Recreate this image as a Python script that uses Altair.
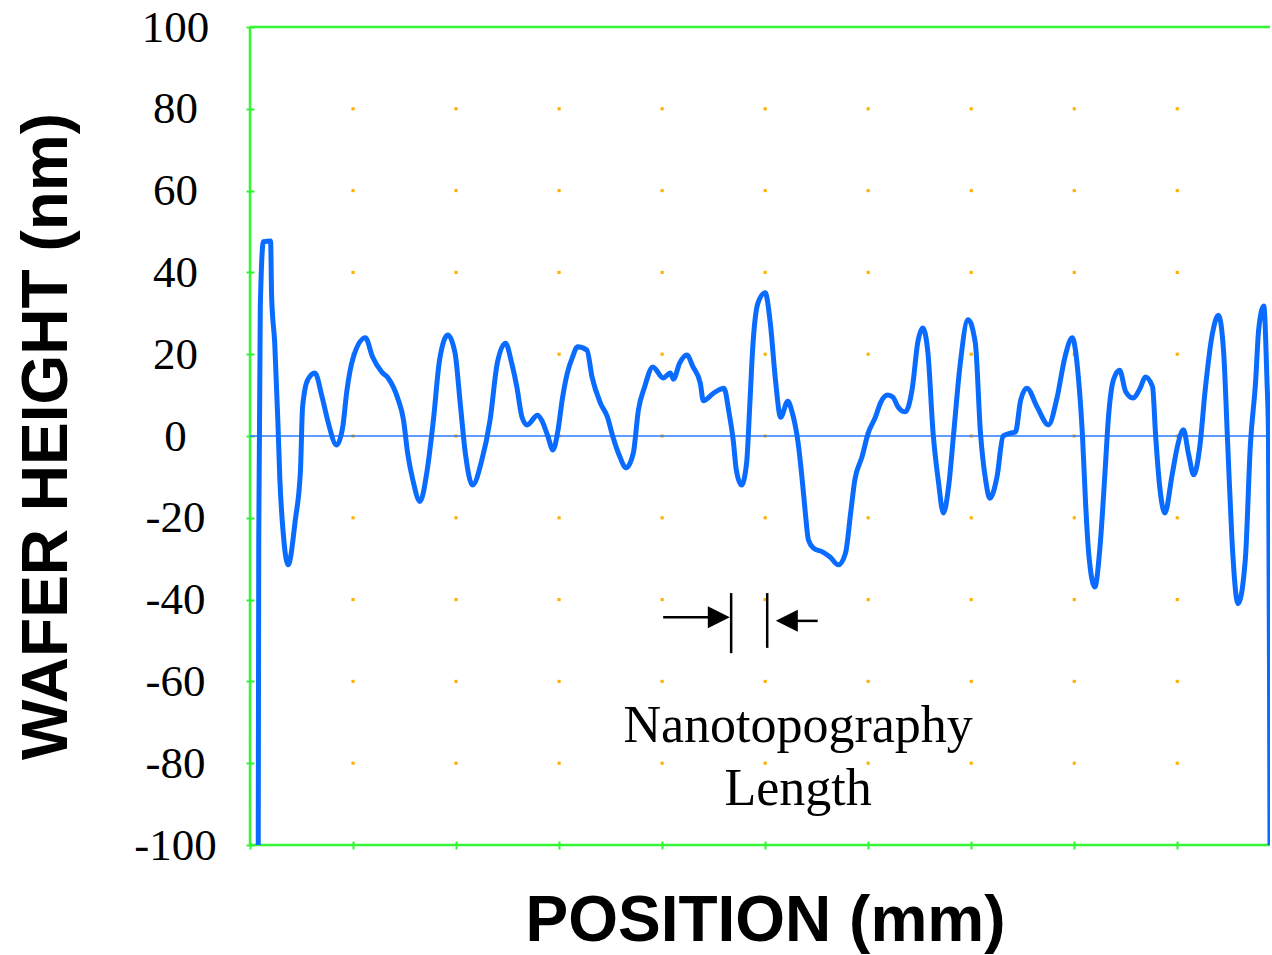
import altair as alt
import pandas as pd

# Surface profile: position along the scan (axis units) and wafer height (nm)
position = [
    0.8, 0.85, 1.0, 1.3, 2.0, 2.1, 2.4, 2.7, 2.9, 3.2, 3.7, 4.4, 4.9, 5.1, 5.6,
    6.3, 7.0, 7.6, 8.4, 9.0, 9.4, 10.0, 11.2, 11.9, 12.8, 13.4, 14.3, 14.9,
    15.3, 15.8, 16.5, 17.2, 17.8, 18.4, 19.2, 19.9, 20.4, 20.9, 21.6, 22.5,
    23.3, 24.0, 24.8, 25.4, 25.9, 26.4, 26.9, 27.9, 28.3, 28.9, 29.4, 29.9,
    30.3, 30.8, 31.3, 31.8, 32.7, 33.2, 34.0, 34.7, 35.2, 35.9, 36.5, 37.2,
    37.7, 38.3, 39.1, 40.1, 40.8, 41.1, 41.7, 42.4, 43.0, 43.7, 44.0, 45.0,
    46.0, 46.5, 46.9, 47.2, 47.7, 48.2, 48.5, 48.8, 49.3, 50.0, 50.5, 51.0,
    51.5, 52.2, 52.6, 53.2, 53.6, 53.9, 54.2, 54.7, 55.6, 56.3, 57.1, 57.8,
    58.3, 58.7, 59.4, 60.0, 60.7, 61.2, 61.9, 62.4, 62.9, 63.6, 64.3, 64.8,
    65.3, 65.8, 66.3, 66.8, 67.3, 67.8, 68.3, 68.9, 69.7, 70.4, 70.9, 71.4,
    71.8, 72.5, 73.1, 73.8, 74.3, 74.8, 75.4, 76.4, 77.5, 78.3, 79.1, 79.8,
    80.4, 80.8, 81.1, 81.4, 82.0, 82.5, 83.0, 83.3, 83.8, 84.4, 85.0, 85.7,
    86.4, 86.9, 87.6, 87.9, 88.3, 88.8, 89.5, 90.0, 90.6, 91.1, 91.6, 92.2,
    92.7, 93.4, 94.0, 94.5, 94.9, 95.3, 95.9, 96.6, 97.1, 97.6, 97.9, 98.4,
    98.7, 98.85, 98.95, 99.0,
]
height_nm = [
    -100, -25, 31.5, 47.5, 47.7, 34, 22.7, 4, -10.8, -23, -31.5, -20.5, -8.3,
    7, 13.7, 15.4, 9.5, 3.2, -2.2, 2.2, 11, 19, 24, 19.3, 15.6, 14.2, 9.5,
    3.9, -4.2, -10.7, -16, -8.3, 3.9, 18.6, 24.7, 20.3, 8.1, -4.2, -12, -5.9,
    3.9, 17.8, 22.7, 17.8, 12, 4.6, 2.7, 5.1, 3.9, 0, -3.4, 1.5,
    8.8, 15.4, 19.3, 21.8, 21, 14.4, 8.1, 4.6, 0, -5.1, -7.8, -4.2,
    6.4, 12, 16.9, 14.2, 15.4, 13.9, 17.8, 19.8, 16.9, 13, 8.6, 10.5,
    11.7, 5.6, -1, -8.3, -12, -6.6, 7.1, 21.8, 32.5, 35, 27.6, 13.7,
    4.6, 8.5, 6, -1.7, -10.8, -18.8, -25.4, -27.4, -28.4, -29.6, -31.5, -28.6,
    -18.8, -10.8, -5.1, 0.7, 4.6, 8.1, 10, 9.5, 7.1, 5.9, 12, 22.7,
    26.4, 20.3, 0.7, -10.8, -18.8, -12.5, 0.7, 16.9, 28.4, 22.7, 0.7, -10.8,
    -15.2, -10, 0, 0.7, 1, 8.8, 11.7, 7.1, 2.7, 9, 19.3, 24,
    14.4, 0, -16.4, -28.6, -36.9, -27.1, -8.3, 3.9, 13.7, 16.1, 10.8, 9.3,
    11.7, 14.4, 12, 0, -12.5, -18.8, -9.5, -2.7, 1.5, -4.5, -9.5, -2.3,
    11, 24.9, 29.5, 20.5, -2.3, -25, -41, -30.3, -2, 13.2, 26, 31.8,
    14, 0.5, -57, -100,
]

# Axis ticks and the dotted grid
x_ticks = [0, 10, 20, 30, 40, 50, 60, 70, 80, 90]
y_ticks = [-100, -80, -60, -40, -20, 0, 20, 40, 60, 80, 100]
grid_x = [10, 20, 30, 40, 50, 60, 70, 80, 90]
grid_y = [-80, -60, -40, -20, 0, 20, 40, 60, 80]
x_range = [0, 99]
y_range = [-100, 100]

# "Nanotopography Length" marker: arrows pointing at two bars
bar_x = [46.7, 50.2]
bar_y_top = [-38.4, -38.4]
bar_y_bottom = [-53.1, -51.8]
arrow_line_start = [40.1, 55.1]
arrow_line_end = [45.5, 52.1]
arrow_y = [-44.3, -45.2]
arrow_shape = ["M1,0L-1,-1L-1,1Z", "M-1,0L1,-1L1,1Z"]
label_lines = ["Nanotopography", "Length"]
label_x = [53.2, 53.2]
label_y = [-74.8, -90.2]

GREEN = "#33F533"
BLUE = "#0A6CFF"
ORANGE = "#FFB000"

xs = alt.Scale(domain=x_range, nice=False, zero=False)
ys = alt.Scale(domain=y_range, nice=False, zero=False)

x_axis = alt.Axis(
    values=x_ticks, labels=False, grid=False, domain=False, offset=-4,
    tickSize=8, tickColor=GREEN, tickWidth=2,
    title="POSITION (mm)", titleFont="Liberation Sans", titleFontWeight="bold",
    titleFontSize=64, titleColor="black", titleX=515, titleY=99,
    titleAlign="center", titleBaseline="alphabetic",
)
y_axis = alt.Axis(
    values=y_ticks, grid=False, domain=False, offset=-4,
    tickSize=8, tickColor=GREEN, tickWidth=2,
    labelFont="Liberation Serif", labelFontSize=45, labelColor="black",
    labelPadding=71, labelAlign="center", labelBaseline="middle",
    labelExpr="datum.value + ''",
    title="WAFER HEIGHT (nm)", titleFont="Liberation Sans", titleFontWeight="bold",
    titleFontSize=64, titleColor="black", titleAngle=270, titleX=-188, titleY=409,
    titleAlign="center", titleBaseline="alphabetic",
)


def X(field):
    return alt.X(field, type="quantitative", scale=xs, axis=x_axis)


def Y(field):
    return alt.Y(field, type="quantitative", scale=ys, axis=y_axis)


profile = pd.DataFrame({"pos": position, "h": height_nm, "order": list(range(len(position)))})
grid = pd.DataFrame([{"gx": gx, "gy": gy} for gx in grid_x for gy in grid_y])

dots = alt.Chart(grid).mark_square(size=10, color=ORANGE, opacity=1).encode(
    x=X("gx"), y=Y("gy"),
)

frame_df = pd.DataFrame({
    "x1": [x_range[0], x_range[0], x_range[0]],
    "x2": [x_range[0], x_range[1], x_range[1]],
    "y1": [y_range[0], y_range[0], y_range[1]],
    "y2": [y_range[1], y_range[0], y_range[1]],
})
frame = alt.Chart(frame_df).mark_rule(color=GREEN, strokeWidth=2.5).encode(
    x=X("x1"), x2="x2:Q", y=Y("y1"), y2="y2:Q",
)

zero_line = alt.Chart(pd.DataFrame({"x1": [x_range[0]], "x2": [x_range[1]], "y": [0]})).mark_rule(
    color="#2A7BFF", strokeWidth=1.6
).encode(x=X("x1"), x2="x2:Q", y=Y("y"))

curve = alt.Chart(profile).mark_line(
    color=BLUE, strokeWidth=5, interpolate="monotone", clip=True
).encode(x=X("pos"), y=Y("h"), order="order:Q")

bars = alt.Chart(pd.DataFrame({"x": bar_x, "y1": bar_y_top, "y2": bar_y_bottom})).mark_rule(
    color="black", strokeWidth=2.5
).encode(x=X("x"), y=Y("y1"), y2="y2:Q")

arrow_lines = alt.Chart(pd.DataFrame({"x1": arrow_line_start, "x2": arrow_line_end, "y": arrow_y})).mark_rule(
    color="black", strokeWidth=2.5
).encode(x=X("x1"), x2="x2:Q", y=Y("y"))

heads = alt.layer(*[
    alt.Chart(pd.DataFrame({"x": [hx], "y": [hy]})).mark_point(
        shape=shp, size=484, filled=True, color="black", opacity=1, strokeWidth=0
    ).encode(x=X("x"), y=Y("y"))
    for hx, hy, shp in zip(arrow_line_end, arrow_y, arrow_shape)
])

label = alt.Chart(pd.DataFrame({"t": label_lines, "x": label_x, "y": label_y})).mark_text(
    font="Liberation Serif", fontSize=52, color="black", align="center", baseline="alphabetic"
).encode(x=X("x"), y=Y("y"), text="t:N")

chart = alt.layer(dots, frame, zero_line, curve, bars, arrow_lines, heads, label).properties(
    width=1020,
    height=818,
    padding={"left": 250, "top": 27, "right": 2, "bottom": 110},
    autosize=alt.AutoSizeParams(type="none"),
    background="white",
).configure_view(stroke=None)

chart.save("out.html", embed_options={"renderer": "svg", "actions": False})
